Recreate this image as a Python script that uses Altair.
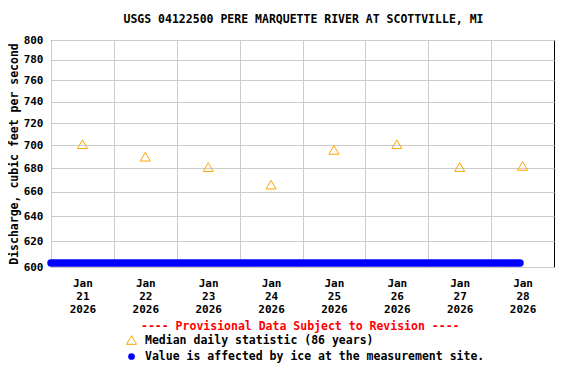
import altair as alt
import pandas as pd

# Median daily statistic (86 years), plotted at noon of each day
median_days = ["2026-01-21", "2026-01-22", "2026-01-23", "2026-01-24",
               "2026-01-25", "2026-01-26", "2026-01-27", "2026-01-28"]
median_values = [701, 690, 681, 666, 696, 701, 681, 682]

# Ice-affected values (shown along the bottom of the plot)
ice_times = ["2026-01-21T00:00:00Z", "2026-01-28T11:00:00Z"]
ice_values = [603, 603]

y_ticks = [600, 620, 640, 660, 680, 700, 720, 740, 760, 780, 800]
day_ticks = [21, 22, 23, 24, 25, 26, 27, 28]

FONT = "DejaVu Sans Mono"
W, H = 503, 227

median_df = pd.DataFrame({"t": [d + "T12:00:00Z" for d in median_days], "v": median_values})
ice_df = pd.DataFrame({"t": ice_times, "v": ice_values})

x_scale = alt.Scale(type="utc",
                    domain=[alt.DateTime(year=2026, month=1, date=21, utc=True),
                            alt.DateTime(year=2026, month=1, date=29, utc=True)])
y_scale = alt.Scale(type="log", domain=[600, 800], nice=False, zero=False)

x_axis = alt.Axis(
    values=[alt.DateTime(year=2026, month=1, date=d, utc=True) for d in day_ticks],
    labelExpr="[utcFormat(datum.value, '%b'), utcFormat(datum.value, '%d'), utcFormat(datum.value, '%Y')]",
    labelOffset=W / 16, labelPadding=10, labelLineHeight=13,
    labelFont=FONT, labelFontWeight="bold", labelFontSize=11, labelColor="black",
    ticks=False, domain=False, grid=True, gridColor="#cccccc", gridWidth=1,
    title=None, labelFlush=False, labelOverlap=False,
)
y_axis = alt.Axis(
    values=y_ticks, format="d",
    labelFont=FONT, labelFontWeight="bold", labelFontSize=11, labelColor="black",
    labelPadding=8, ticks=False, domain=False, grid=True, gridColor="#cccccc", gridWidth=1,
    title="Discharge, cubic feet per second", titleFont=FONT, titleFontWeight="bold",
    titleFontSize=11.5, titleColor="black", titleAngle=270, titleX=-37, titleY=H / 2,
    titleAlign="center", titleBaseline="middle", labelOverlap=False,
)

ice = alt.Chart(ice_df).mark_line(color="#0000ff", strokeWidth=7.5, strokeCap="round",
                                  clip=False).encode(
    x=alt.X("t:T", scale=x_scale, axis=x_axis),
    y=alt.Y("v:Q", scale=y_scale, axis=y_axis),
)

med = alt.Chart(median_df).mark_point(shape="triangle-up", filled=False, color="#ffa500",
                                      size=100, strokeWidth=1, opacity=1).encode(
    x=alt.X("t:T", scale=x_scale),
    y=alt.Y("v:Q", scale=y_scale),
)

def txt(s, x, y, color="black", size=11.5, align="left"):
    return alt.Chart(pd.DataFrame({"s": [s]})).mark_text(
        font=FONT, fontWeight="bold", fontSize=size, color=color, align=align,
        baseline="middle", clip=False).encode(
        x=alt.value(x), y=alt.value(y), text="s:N")

title = txt("USGS 04122500 PERE MARQUETTE RIVER AT SCOTTVILLE, MI", W / 2 + 1, -20, align="center")
prov = txt("---- Provisional Data Subject to Revision ----", 90, 287, color="#ff0000")
leg1_sym = alt.Chart(pd.DataFrame({"a": [0]})).mark_point(
    shape="triangle-up", filled=False, color="#ffa500", size=100, strokeWidth=1, opacity=1,
    clip=False).encode(x=alt.value(80.5), y=alt.value(300))
leg1_txt = txt("Median daily statistic (86 years)", 94, 301)
leg2_sym = alt.Chart(pd.DataFrame({"a": [0]})).mark_point(
    shape="circle", filled=True, color="#0000ff", size=45, opacity=1,
    clip=False).encode(x=alt.value(80.5), y=alt.value(316.5))
leg2_txt = txt("Value is affected by ice at the measurement site.", 94, 317)

chart = alt.layer(ice, med, title, prov, leg1_sym, leg1_txt, leg2_sym, leg2_txt).properties(
    width=W, height=H,
    autosize=alt.AutoSizeParams(type="none"),
    padding={"left": 43, "top": 32, "right": 14, "bottom": 109},
    background="white",
).configure_view(stroke="black", strokeWidth=1)

chart.save("out.html", embed_options={"renderer": "svg", "actions": False})
